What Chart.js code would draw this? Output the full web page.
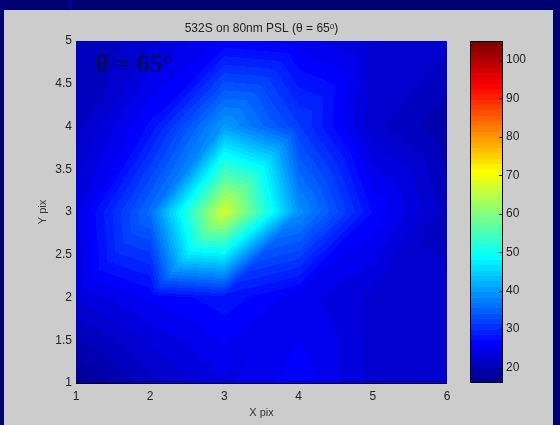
<!DOCTYPE html>
<html>
<head>
<meta charset="utf-8">
<script src="https://cdn.jsdelivr.net/npm/chart.js@4"></script>
<style>
    html, body {
        margin: 0;
        padding: 0;
    }

    body {
        width: 560px;
        height: 425px;
        background: #000070;
        position: relative;
        overflow: hidden;
    }

    #panel {
        position: absolute;
        left: 4px;
        top: 10px;
        width: 549px;
        height: 415px;
        background: #cccccc;
    }

    #stripe {
        position: absolute;
        left: 69px;
        top: 0;
        width: 3px;
        height: 10px;
        background: #0000a8;
    }

    #surf {
        position: absolute;
        left: 0;
        top: 0;
    }

    #cbar {
        position: absolute;
        left: 460px;
        top: 0;
    }
</style>
</head>
<body>
<div id="panel"></div>
<div id="stripe"></div>
<canvas id="surf" width="470" height="425"></canvas>
<canvas id="cbar" width="100" height="425"></canvas>

<script>
// grid of detector pixels
const xPix = [1, 2, 3, 4, 5, 6];
const yPix = [1, 2, 3, 4, 5];

// intensity, one row per Y pix, left to right along X pix
const rowY1 = [17, 21, 24, 26.5, 22.5, 22];
const rowY2 = [23, 26, 28, 25, 22.5, 22];
const rowY3 = [24, 36, 67, 39, 27, 21];
const rowY4 = [21, 27.5, 40, 31.5, 22, 19];
const rowY5 = [20, 22.5, 26, 25, 22.5, 22];

const rows = [rowY1, rowY2, rowY3, rowY4, rowY5];

const xTicks = [1, 2, 3, 4, 5, 6];
const yTicks = [1, 1.5, 2, 2.5, 3, 3.5, 4, 4.5, 5];
const cbTicks = [20, 30, 40, 50, 60, 70, 80, 90, 100];

// colour limits of the colorbar
const colorMin = 16.0;
const colorMax = 104.9;

const angleText = "θ = 65°";
const angleX = 1.26;
const angleY = 4.64;

const tickFont = {
    family: "'Liberation Sans', Arial, sans-serif",
    size: 12
};

// matlab jet(64)
function jetU(k) {
    if (k < 1 || k > 47) return 0;
    if (k <= 16) return k / 16;
    if (k <= 31) return 1;
    return (48 - k) / 16;
}

function jet(j) {
    return [
        Math.round(jetU(j - 23) * 255),
        Math.round(jetU(j - 7) * 255),
        Math.round(jetU(j + 9) * 255)
    ];
}

function colorIndex(v) {
    let k = Math.floor((v - colorMin) / (colorMax - colorMin) * 64);
    if (k < 0) k = 0;
    if (k > 63) k = 63;
    return k;
}

function findCell(arr, v) {
    for (let i = 0; i < arr.length - 2; i++) {
        if (v < arr[i + 1]) return i;
    }
    return arr.length - 2;
}

// linear interpolation on triangles, quads split lower-left to upper-right
function sample(xv, yv) {
    const i = findCell(xPix, xv);
    const j = findCell(yPix, yv);
    const u = (xv - xPix[i]) / (xPix[i + 1] - xPix[i]);
    const w = (yv - yPix[j]) / (yPix[j + 1] - yPix[j]);
    const a = rows[j][i];
    const b = rows[j][i + 1];
    const c = rows[j + 1][i + 1];
    const d = rows[j + 1][i];
    if (u >= w) {
        return a + u * (b - a) + w * (c - b);
    }
    return a + w * (d - a) + u * (c - d);
}

const surfacePlugin = {
    id: "surface",
    beforeDatasetsDraw(chart) {
        const ctx = chart.ctx;
        const area = chart.chartArea;
        const sx = chart.scales.x;
        const sy = chart.scales.y;
        const left = Math.round(area.left);
        const top = Math.round(area.top);
        const w = Math.round(area.right) - left;
        const h = Math.round(area.bottom) - top;

        const off = document.createElement("canvas");
        off.width = w;
        off.height = h;
        const octx = off.getContext("2d");
        const img = octx.createImageData(w, h);

        for (let py = 0; py < h; py++) {
            const yv = sy.getValueForPixel(top + py + 0.5);
            for (let px = 0; px < w; px++) {
                const xv = sx.getValueForPixel(left + px + 0.5);
                const c = jet(colorIndex(sample(xv, yv)));
                const p = (py * w + px) * 4;
                img.data[p] = c[0];
                img.data[p + 1] = c[1];
                img.data[p + 2] = c[2];
                img.data[p + 3] = 255;
            }
        }
        octx.putImageData(img, 0, 0);
        ctx.drawImage(off, left, top);
    },
    afterDatasetsDraw(chart) {
        const ctx = chart.ctx;
        const area = chart.chartArea;
        const sx = chart.scales.x;
        const sy = chart.scales.y;

        ctx.save();
        ctx.strokeStyle = "#000000";
        ctx.lineWidth = 1;
        ctx.beginPath();
        ctx.moveTo(area.left, Math.round(area.bottom) + 0.5);
        ctx.lineTo(area.right, Math.round(area.bottom) + 0.5);
        ctx.stroke();

        ctx.fillStyle = "#0a0a5c";
        ctx.font = "bold 26px 'Liberation Serif', 'Times New Roman', serif";
        ctx.textAlign = "left";
        ctx.textBaseline = "alphabetic";
        ctx.fillText(
            angleText,
            sx.getPixelForValue(angleX),
            sy.getPixelForValue(angleY)
        );
        ctx.restore();
    }
};

const colorbarPlugin = {
    id: "colorbar",
    beforeDatasetsDraw(chart) {
        const ctx = chart.ctx;
        const area = chart.chartArea;
        const sy = chart.scales.y;
        const step = (colorMax - colorMin) / 64;

        ctx.save();
        for (let k = 0; k < 64; k++) {
            const y0 = Math.round(sy.getPixelForValue(colorMin + (k + 1) * step));
            const y1 = Math.round(sy.getPixelForValue(colorMin + k * step));
            const c = jet(k);
            ctx.fillStyle = "rgb(" + c[0] + "," + c[1] + "," + c[2] + ")";
            ctx.fillRect(area.left, y0, area.right - area.left, y1 - y0);
        }

        ctx.strokeStyle = "#000000";
        ctx.lineWidth = 1;
        ctx.strokeRect(
            Math.round(area.left) + 0.5,
            Math.round(area.top) + 0.5,
            Math.round(area.right - area.left) - 1,
            Math.round(area.bottom - area.top) - 1
        );

        ctx.beginPath();
        cbTicks.forEach(v => {
            const y = Math.round(sy.getPixelForValue(v)) + 0.5;
            ctx.moveTo(area.right - 4, y);
            ctx.lineTo(area.right, y);
        });
        ctx.stroke();
        ctx.restore();
    }
};

const points = [];
yPix.forEach((yv, j) => {
    xPix.forEach((xv, i) => {
        points.push({ x: xv, y: yv, v: rows[j][i] });
    });
});

new Chart(document.getElementById("surf"), {
    type: "scatter",
    data: {
        datasets: [{
            data: points,
            pointRadius: 0
        }]
    },
    options: {
        responsive: false,
        animation: false,
        layout: {
            padding: { left: 0, right: 23, top: 0, bottom: 0 }
        },
        plugins: {
            legend: { display: false },
            tooltip: { enabled: false },
            title: {
                display: true,
                text: "532S on 80nm PSL (θ = 65ᵒ)",
                fullSize: false,
                color: "#222222",
                font: { family: tickFont.family, size: 12, weight: "normal" },
                padding: { top: 21.3, bottom: 5.3 }
            }
        },
        scales: {
            x: {
                type: "linear",
                min: 1,
                max: 6,
                grid: { display: false, drawTicks: false },
                border: { display: false },
                afterBuildTicks: s => {
                    s.ticks = xTicks.map(v => ({ value: v }));
                },
                afterFit: s => {
                    s.height = 42;
                },
                ticks: {
                    padding: 6,
                    color: "#222222",
                    font: tickFont,
                    maxRotation: 0,
                    autoSkip: false,
                    callback: v => String(v)
                },
                title: {
                    display: true,
                    text: "X pix",
                    color: "#333333",
                    font: { family: tickFont.family, size: 11 },
                    padding: { top: 0, bottom: 5 }
                }
            },
            y: {
                type: "linear",
                min: 1,
                max: 5,
                grid: { display: false, drawTicks: false },
                border: { display: false },
                afterBuildTicks: s => {
                    s.ticks = yTicks.map(v => ({ value: v }));
                },
                afterFit: s => {
                    s.width = 76;
                },
                ticks: {
                    padding: 4,
                    color: "#222222",
                    font: tickFont,
                    autoSkip: false,
                    callback: v => String(v)
                },
                title: {
                    display: true,
                    text: "Y pix",
                    color: "#333333",
                    font: { family: tickFont.family, size: 11 },
                    padding: { top: 36, bottom: 0 }
                }
            }
        }
    },
    plugins: [surfacePlugin]
});

new Chart(document.getElementById("cbar"), {
    type: "scatter",
    data: {
        datasets: [{
            data: [],
            pointRadius: 0
        }]
    },
    options: {
        responsive: false,
        animation: false,
        layout: {
            padding: { left: 10, right: 0, top: 41, bottom: 42 }
        },
        plugins: {
            legend: { display: false },
            tooltip: { enabled: false }
        },
        scales: {
            x: {
                display: false,
                min: 0,
                max: 1
            },
            y: {
                type: "linear",
                position: "right",
                min: colorMin,
                max: colorMax,
                grid: { display: false, drawTicks: false },
                border: { display: false },
                afterBuildTicks: s => {
                    s.ticks = cbTicks.map(v => ({ value: v }));
                },
                afterFit: s => {
                    s.width = 57;
                },
                ticks: {
                    padding: 3,
                    color: "#222222",
                    font: tickFont,
                    autoSkip: false
                }
            }
        }
    },
    plugins: [colorbarPlugin]
});
</script>
</body>
</html>
